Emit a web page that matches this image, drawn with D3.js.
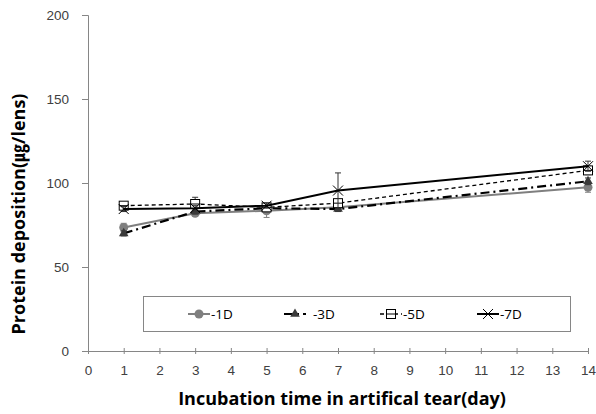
<!DOCTYPE html>
<html>
<head>
<meta charset="utf-8">
<script src="https://cdn.jsdelivr.net/npm/d3@7"></script>
<style>
  body { margin: 0; background: #fff; }
  svg { display: block; font-family: "Open Sans", "Noto Sans CJK KR", sans-serif; }
</style>
</head>
<body>
<svg id="chart" width="596" height="414"></svg>
<script>
// data
const days = [1, 3, 5, 7, 14];
const d1 = [73.5, 82, 83.5, 85.5, 97.5];
const d3v = [70, 83, 85, 84.5, 101];
const d5 = [86.5, 87.5, 85.5, 88, 107.5];
const d7 = [84.5, 85, 86.5, 95.5, 110];
const err1 = [2.5, 1.5, 4, 1.5, 3];
const err3 = [1.5, 1.5, 1.5, 1.5, 2];
const err5 = [1.5, 4, 1.5, 2, 2.5];
const err7 = [1.5, 1.5, 1.5, 10.5, 3];
const xTicks = d3.range(0, 15);
const yTicks = [0, 50, 100, 150, 200];

const series = [
  { name: "-1D", vals: d1, err: err1, color: "#7f7f7f", width: 2, dash: null, marker: "circle", gap: 0 },
  { name: "-3D", vals: d3v, err: err3, color: "#000", width: 2.2, dash: "9,4,2,4", marker: "triangle", gap: 6 },
  { name: "-5D", vals: d5, err: err5, color: "#000", width: 1.3, dash: "4,3", marker: "square", gap: 0 },
  { name: "-7D", vals: d7, err: err7, color: "#000", width: 2, dash: null, marker: "cross", gap: 0 }
];

const svg = d3.select("#chart");
const x = d3.scaleLinear().domain([0, 14]).range([88, 588]);
const y = d3.scaleLinear().domain([0, 200]).range([351, 15]);
const axisColor = "#868686";

// y axis
const gy = svg.append("g").attr("transform", "translate(88,0)")
  .call(d3.axisLeft(y).tickValues(yTicks).tickSize(6).tickPadding(13));
gy.select(".domain").attr("stroke", axisColor);
gy.selectAll(".tick line").attr("stroke", axisColor);
gy.selectAll("text").attr("font-size", 13.5).attr("fill", "#404040");

// x axis
const gx = svg.append("g").attr("transform", "translate(0,351)")
  .call(d3.axisBottom(x).tickValues(xTicks).tickSize(3).tickSizeOuter(0).tickPadding(11));
gx.select(".domain").attr("stroke", axisColor).attr("d", "M82,0.5H588");
gx.selectAll(".tick line").attr("stroke", axisColor).attr("y1", -3);
gx.selectAll("text").attr("font-size", 13.5).attr("fill", "#404040");

// titles
svg.append("text").attr("x", 342).attr("y", 405).attr("text-anchor", "middle")
  .attr("font-size", 18).attr("font-weight", "bold").attr("fill", "#000")
  .text("Incubation time in artifical tear(day)");
svg.append("text").attr("transform", "translate(25,214) rotate(-90)").attr("text-anchor", "middle")
  .attr("font-size", 18).attr("font-weight", "bold").attr("fill", "#000")
  .text("Protein deposition(㎍/lens)");

function drawMarker(g, type, cx, cy, color) {
  if (type === "circle") {
    g.append("circle").attr("cx", cx).attr("cy", cy).attr("r", 4.5).attr("fill", color);
  } else if (type === "triangle") {
    g.append("path").attr("d", d3.symbol(d3.symbolTriangle, 40)()).attr("transform", `translate(${cx},${cy})`)
      .attr("fill", "#3a3a3a");
  } else if (type === "square") {
    g.append("rect").attr("x", cx - 4.5).attr("y", cy - 4.5).attr("width", 9).attr("height", 9)
      .attr("fill", "#fff").attr("stroke", "#000").attr("stroke-width", 1);
    g.append("line").attr("x1", cx - 4.5).attr("x2", cx + 4.5).attr("y1", cy).attr("y2", cy)
      .attr("stroke", "#000").attr("stroke-width", 1);
  } else {
    g.append("path").attr("d", `M${cx - 5},${cy - 5}L${cx + 5},${cy + 5}M${cx - 5},${cy + 5}L${cx + 5},${cy - 5}`)
      .attr("stroke", "#000").attr("stroke-width", 1);
  }
}

const line = d3.line().x(d => x(d[0])).y(d => y(d[1]));
const plot = svg.append("g");

series.forEach(s => {
  const pts = days.map((d, i) => [d, s.vals[i], s.err[i]]);
  const g = plot.append("g");
  // error bars
  pts.forEach(p => {
    const cx = x(p[0]);
    g.append("path")
      .attr("d", `M${cx},${y(p[1] - p[2])}V${y(p[1] + p[2])}M${cx - 3},${y(p[1] + p[2])}H${cx + 3}M${cx - 3},${y(p[1] - p[2])}H${cx + 3}`)
      .attr("stroke", s.color === "#000" ? "#333" : s.color).attr("stroke-width", 1).attr("fill", "none");
  });
  g.append("path").datum(pts).attr("d", line).attr("fill", "none")
    .attr("stroke", s.color).attr("stroke-width", s.width)
    .attr("stroke-dasharray", s.dash);
  pts.forEach(p => drawMarker(g, s.marker, x(p[0]), y(p[1]), s.color));
});

// legend
const lg = svg.append("g");
lg.append("rect").attr("x", 143.5).attr("y", 296.5).attr("width", 427).attr("height", 35)
  .attr("fill", "#fff").attr("stroke", "#868686");
const legendX = [188, 284, 380, 477];
series.forEach((s, i) => {
  const lx = legendX[i], ly = 314;
  lg.append("line").attr("x1", lx).attr("x2", lx + 22).attr("y1", ly).attr("y2", ly)
    .attr("stroke", s.color).attr("stroke-width", s.width).attr("stroke-dasharray", s.dash);
  drawMarker(lg, s.marker, lx + 11, ly, s.color);
  lg.append("text").attr("x", lx + 23 + s.gap).attr("y", ly + 5).attr("font-size", 13.5).attr("fill", "#000")
    .text(s.name);
});
</script>
</body>
</html>
